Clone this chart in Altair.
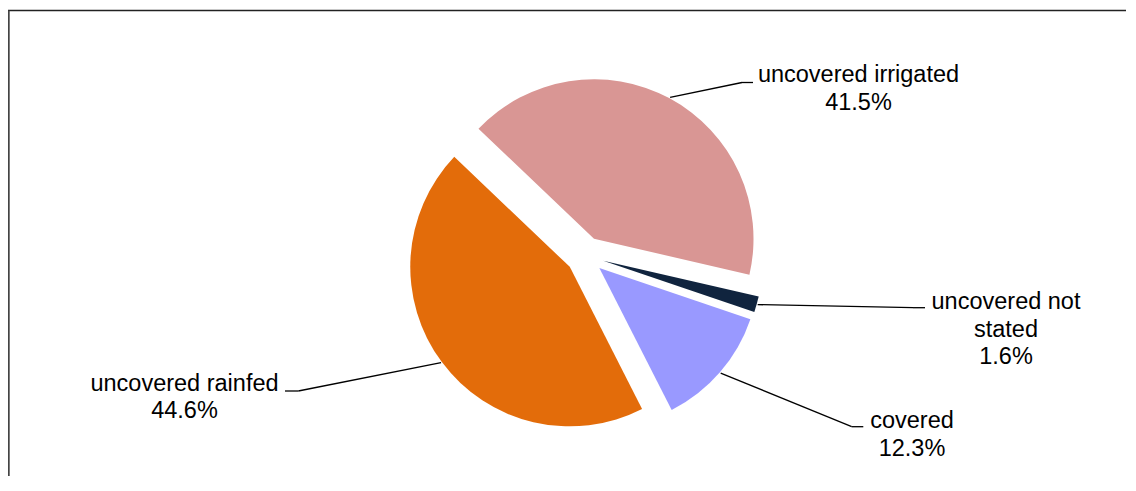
import math
import altair as alt
import pandas as pd

# ---- data ----
categories = ["uncovered irrigated", "uncovered not stated", "covered", "uncovered rainfed"]
label_lines = ["uncovered irrigated", "uncovered not\nstated", "covered", "uncovered rainfed"]
shares = [41.5, 1.6, 12.3, 44.6]
order_idx = [0, 1, 2, 3]
colors = ["#D99694", "#10243E", "#9999FF", "#E36C0A"]
TITLE = "Type of irrigation, 2003/2010"

# ---- label layout (pixels) ----
elbow_x = [734, 905, 843.7, 290.3]
elbow_y = [74.5, 299.7, 418.7, 383]
end_x = [745, 917, 855.3, 277]
end_y = [74.5, 299.7, 418.7, 383]
text_x = [850.5, 998, 904, 176.5]
text_y = [74.3, 301.3, 420.3, 382.7]

# ---- geometry / style ----
CX, CY = 577, 247.5
R = 159.5
EXPLODE = 19
LEADER_R = 160.5
START = math.radians(313.6)
W, H = 1118, 468
FONT = "Liberation Sans"

df = pd.DataFrame({
    "category": categories,
    "lines": label_lines,
    "share": shares,
    "idx": order_idx,
    "ex": elbow_x,
    "ey": elbow_y,
    "endx": end_x,
    "endy": end_y,
    "tx": text_x,
    "ty": text_y,
})

base = alt.Chart(df).transform_window(
    cum="sum(share)",
    sort=[alt.SortField("idx", order="ascending")],
    frame=[None, 0],
).transform_calculate(
    t0="datum.cum - datum.share",
    mid=f"{START} + 2 * PI * (datum.cum - datum.share / 2) / 100",
).transform_calculate(
    cx=f"{CX} + {EXPLODE} * sin(datum.mid)",
    cy=f"{CY} - {EXPLODE} * cos(datum.mid)",
).transform_calculate(
    lx=f"datum.cx + {LEADER_R} * sin(datum.mid)",
    ly=f"datum.cy - {LEADER_R} * cos(datum.mid)",
    label="datum.lines + '\\n' + format(datum.share, '.1f') + '%'",
)

arcs = base.mark_arc(radius=R).encode(
    theta=alt.Theta("t0:Q", stack=None,
                    scale=alt.Scale(domain=[0, 100], range=[START, START + 2 * math.pi])),
    theta2="cum:Q",
    color=alt.Color("category:N", scale=alt.Scale(domain=categories, range=colors), legend=None),
    x=alt.X("cx:Q", scale=None, axis=None),
    y=alt.Y("cy:Q", scale=None, axis=None),
)

lead1 = base.mark_rule(color="black", strokeWidth=1.3).encode(
    x=alt.X("lx:Q", scale=None, axis=None),
    y=alt.Y("ly:Q", scale=None, axis=None),
    x2="ex:Q",
    y2="ey:Q",
)

lead2 = base.mark_rule(color="black", strokeWidth=1.3).encode(
    x=alt.X("ex:Q", scale=None, axis=None),
    y=alt.Y("ey:Q", scale=None, axis=None),
    x2="endx:Q",
    y2="endy:Q",
)

labels = base.mark_text(
    font=FONT, fontSize=23.5, align="center", baseline="alphabetic",
    lineBreak="\n", lineHeight=27.5, color="black",
).encode(
    x=alt.X("tx:Q", scale=None, axis=None),
    y=alt.Y("ty:Q", scale=None, axis=None),
    text="label:N",
)

frame_src = pd.DataFrame({"f": [0]})
frame_top = alt.Chart(frame_src).mark_rule(color="#222222", strokeWidth=1.5).encode(
    x=alt.value(0), x2=alt.value(W), y=alt.value(2.5),
)
frame_left = alt.Chart(frame_src).mark_rule(color="#444444", strokeWidth=1.8).encode(
    x=alt.value(0.8), y=alt.value(2.5), y2=alt.value(H),
)

title = alt.Chart(pd.DataFrame({"t": [TITLE]})).mark_text(
    font=FONT, fontSize=28.7, fontWeight="bold", align="center", baseline="alphabetic",
).encode(
    text="t:N", x=alt.value(567.5), y=alt.value(-8),
)

chart = alt.layer(frame_top, frame_left, arcs, lead1, lead2, labels, title).properties(
    width=W, height=H, autosize="none", padding=0, background="white",
).configure_view(stroke=None)

chart.save("out.html", embed_options={"renderer": "svg", "actions": False})
